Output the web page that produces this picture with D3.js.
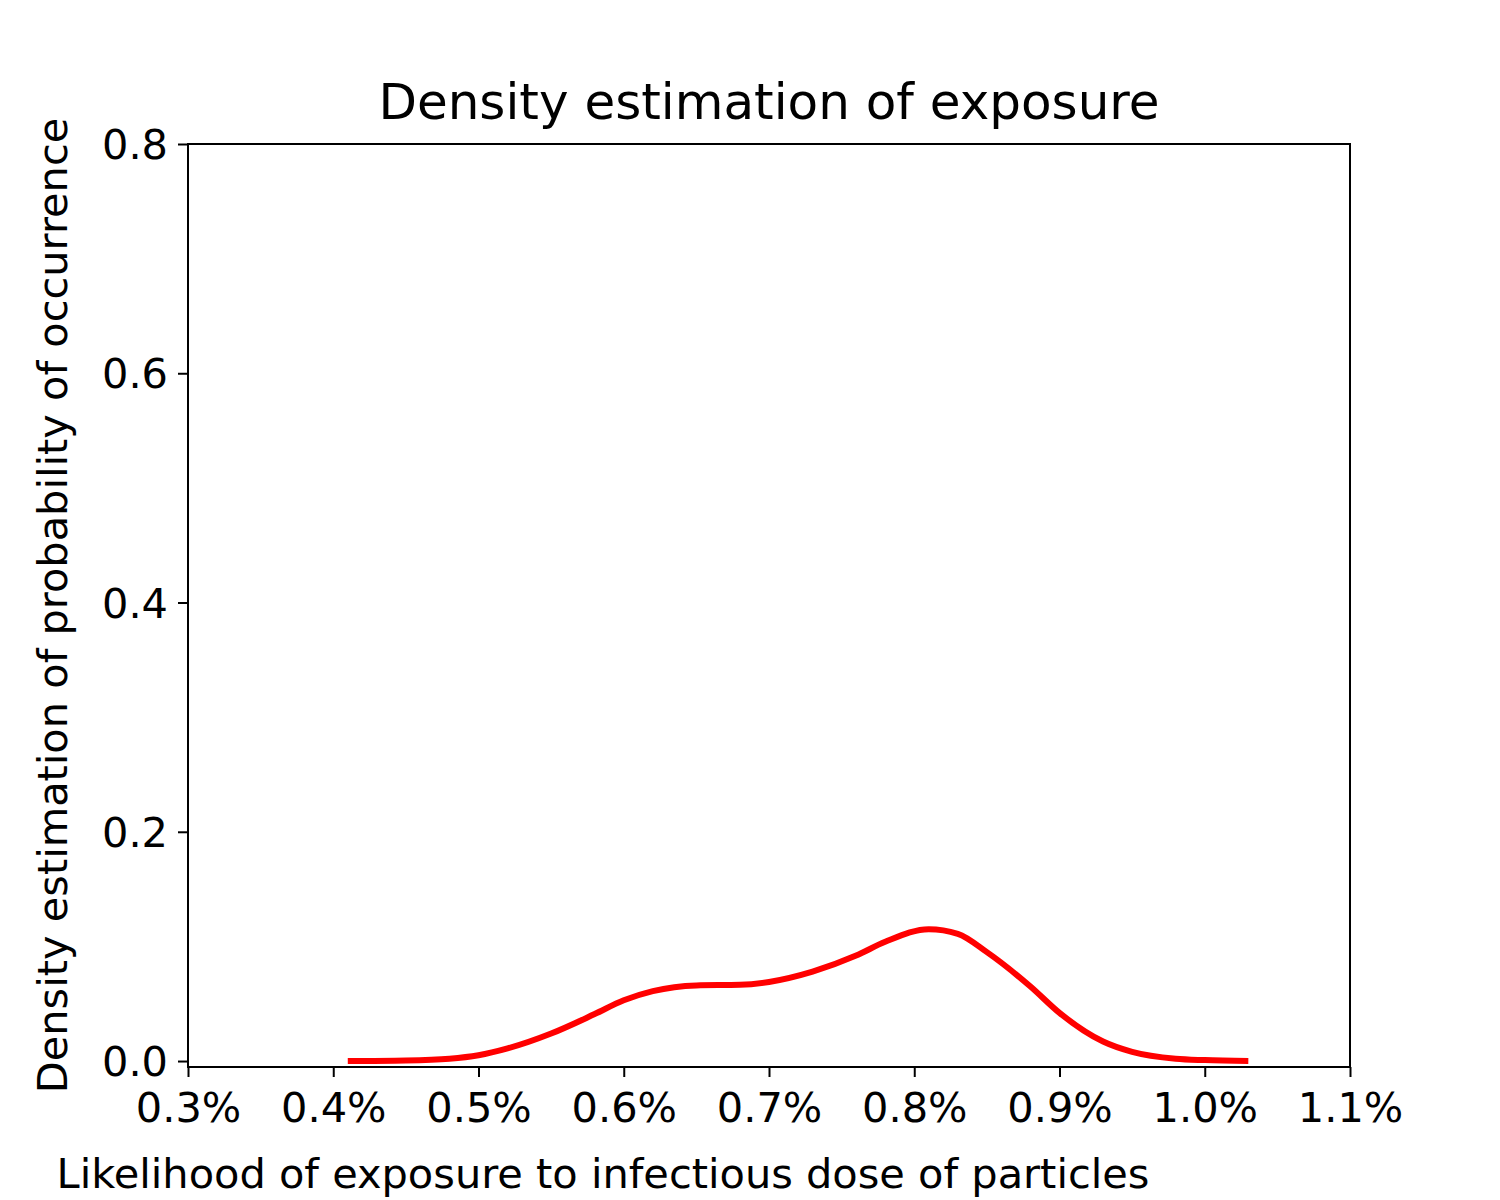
<!DOCTYPE html>
<html>
<head>
<meta charset="utf-8">
<script src="https://cdn.jsdelivr.net/npm/d3@7"></script>
<style>
  body { margin: 0; background: #fff; }
  text { font-family: "DejaVu Sans", sans-serif; }
</style>
</head>
<body>
<script>
const width = 1500;
const height = 1200;
const margin = { top: 144, right: 150, bottom: 133, left: 188 };

// exposure likelihood (fraction) and estimated density
const exposure = [0.0041, 0.0045, 0.0048, 0.0050, 0.0052, 0.0055, 0.0058, 0.0060, 0.0062, 0.0065, 0.0068, 0.0070, 0.0073, 0.0076, 0.0078, 0.0081, 0.0083, 0.0085, 0.0088, 0.0090, 0.0093, 0.0095, 0.0098, 0.0100, 0.0103];
const density = [0.0000, 0.0005, 0.0020, 0.0050, 0.0110, 0.0240, 0.0410, 0.0530, 0.0610, 0.0660, 0.0665, 0.0690, 0.0780, 0.0920, 0.1040, 0.1150, 0.1110, 0.0950, 0.0650, 0.0420, 0.0170, 0.0080, 0.0020, 0.0008, 0.0000];
const xTicks = [0.003, 0.004, 0.005, 0.006, 0.007, 0.008, 0.009, 0.010, 0.011];
const yTicks = [0.0, 0.2, 0.4, 0.6, 0.8];

const svg = d3.select("body")
    .append("svg")
    .attr("width", width)
    .attr("height", height);

let xScale = d3.scaleLinear()
    .domain([0.003, 0.011])
    .range([margin.left, width - margin.right]);

let yScale = d3.scaleLinear()
    .domain([-0.0052, 0.8])
    .range([height - margin.bottom, margin.top]);

let xAxis = d3.axisBottom(xScale)
    .tickValues(xTicks)
    .tickSize(10)
    .tickPadding(16)
    .tickFormat(d3.format(".1%"));
let yAxis = d3.axisLeft(yScale)
    .tickValues(yTicks)
    .tickSize(10)
    .tickPadding(10)
    .tickFormat(d3.format(".1f"));

svg.append("g")
    .attr("transform", `translate(0, ${height - margin.bottom})`)
    .call(xAxis)
    .call(g => g.select(".domain").remove())
    .selectAll("text").attr("font-size", 41.5).attr("fill", "#000");

svg.append("g")
    .attr("transform", `translate(${margin.left}, 0)`)
    .call(yAxis)
    .call(g => g.select(".domain").remove())
    .selectAll("text").attr("font-size", 41.5).attr("fill", "#000").attr("dy", "0.35em");

svg.selectAll(".tick line").attr("stroke", "#000").attr("stroke-width", 2);

svg.append("rect")
    .attr("x", margin.left)
    .attr("y", margin.top)
    .attr("width", width - margin.left - margin.right)
    .attr("height", height - margin.top - margin.bottom)
    .attr("fill", "none")
    .attr("stroke", "#000")
    .attr("stroke-width", 2);

const line = d3.line()
    .x((d, i) => xScale(exposure[i]))
    .y(d => yScale(d))
    .curve(d3.curveMonotoneX);

svg.append("path")
    .datum(density)
    .attr("d", line)
    .attr("fill", "none")
    .attr("stroke", "#ff0000")
    .attr("stroke-width", 6);

svg.append("text")
    .attr("x", (margin.left + width - margin.right) / 2)
    .attr("y", 119)
    .attr("text-anchor", "middle")
    .attr("font-size", 50)
    .text("Density estimation of exposure");

svg.append("text")
    .attr("x", 603)
    .attr("y", 1188)
    .attr("text-anchor", "middle")
    .attr("font-size", 41.5)
    .text("Likelihood of exposure to infectious dose of particles");

svg.append("text")
    .attr("transform", `translate(67, ${(margin.top + height - margin.bottom) / 2}) rotate(-90)`)
    .attr("text-anchor", "middle")
    .attr("font-size", 41.5)
    .text("Density estimation of probability of occurrence");
</script>
</body>
</html>
